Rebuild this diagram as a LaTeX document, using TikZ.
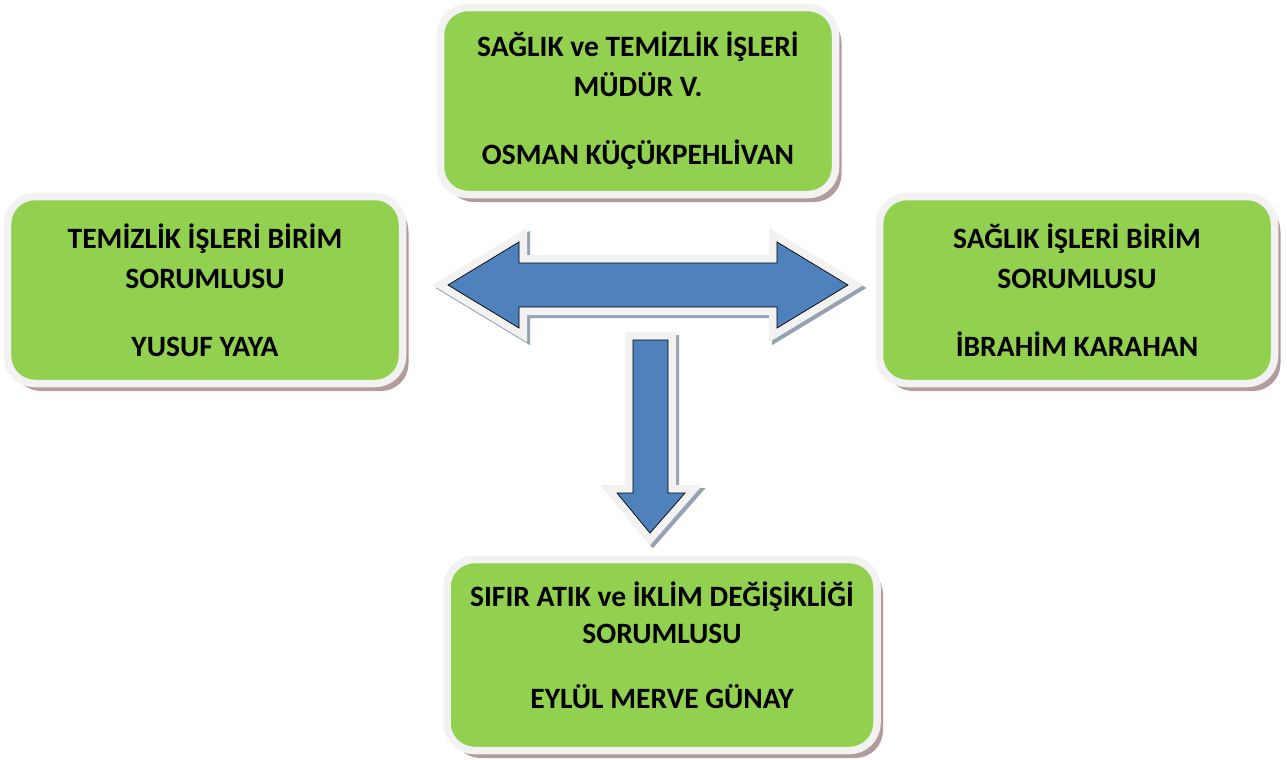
\documentclass[tikz,border=0pt]{standalone}
\usepackage{fontspec}
\setmainfont{Carlito}
\usetikzlibrary{shadows}

\definecolor{unitgreen}{HTML}{92D050}
\definecolor{rimwhite}{HTML}{F2F2F2}
\definecolor{boxshade}{HTML}{B39A9B}
\definecolor{arrowblue}{HTML}{4F81BD}
\definecolor{arrowshade}{HTML}{95A2B3}

\tikzset{
  unitbox/.style={rectangle, rounded corners=5.5mm, fill=unitgreen, draw=rimwhite,
    line width=1.5mm, minimum width=79mm, minimum height=37.4mm, inner sep=0pt,
    align=center, font=\fontsize{16.8}{22.8}\selectfont\bfseries,
    drop shadow={shadow xshift=1.2mm, shadow yshift=-1.5mm, fill=boxshade, opacity=1}},
  arrowshadow/.style={draw=arrowshade, fill=arrowshade, line width=3.2mm, line join=miter, shift={(3,3)}},
  arrowrim/.style={draw=rimwhite, line width=3.2mm, line join=miter},
  arrowbody/.style={fill=arrowblue},
}

\begin{document}
\begin{tikzpicture}[x=0.2mm,y=-0.2mm]
\useasboundingbox (0,0) rectangle (1287,760);

% Arrows
\foreach \layer in {arrowshadow,arrowrim,arrowbody}{
  \draw[\layer] (448,285) -- (519,242) -- (519,263) -- (777,263) -- (777,242)
    -- (848,285) -- (777,328) -- (777,307) -- (519,307) -- (519,328) -- cycle;
  \draw[\layer] (633,340) -- (668,340) -- (668,493) -- (685,493) -- (650,533)
    -- (617,493) -- (633,493) -- cycle;
}

% Units
\node[unitbox] (mudur) at (638,101) {SAĞLIK ve TEMİZLİK İŞLERİ\\MÜDÜR V.\\[15.9pt]OSMAN KÜÇÜKPEHLİVAN};
\node[unitbox] (temizlik) at (205,290) {TEMİZLİK İŞLERİ BİRİM\\SORUMLUSU\\[15.9pt]YUSUF YAYA};
\node[unitbox] (saglik) at (1077,290) {SAĞLIK İŞLERİ BİRİM\\SORUMLUSU\\[15.9pt]İBRAHİM KARAHAN};
\node[unitbox, minimum width=86mm, minimum height=38.2mm,
  font=\fontsize{16.8}{21}\selectfont\bfseries] (atik) at (662,655)
  {SIFIR ATIK ve İKLİM DEĞİŞİKLİĞİ\\SORUMLUSU\\[16pt]EYLÜL MERVE GÜNAY\rule[-11pt]{0pt}{0pt}};
\end{tikzpicture}
\end{document}
